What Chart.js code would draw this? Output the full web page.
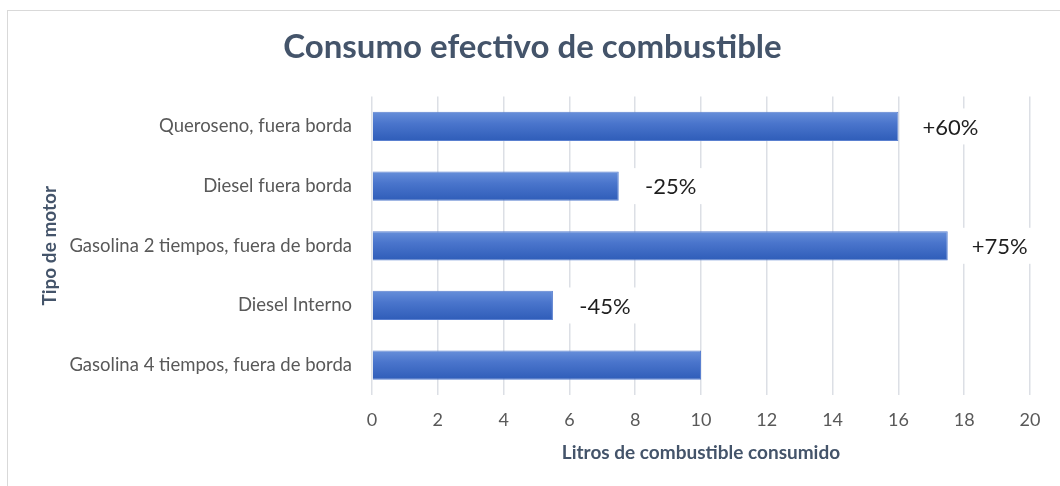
<!DOCTYPE html>
<html lang="es">
<head>
  <meta charset="UTF-8" />
  <title>Consumo efectivo de combustible</title>
  <script src="https://cdn.jsdelivr.net/npm/chart.js"></script>
  <style>
    body {
      margin: 0;
      background: #fff;
    }

    .wrap {
      position: relative;
      width: 1060px;
      height: 486px;
    }

    .frame {
      position: absolute;
      left: 7px;
      top: 10px;
      width: 1060px;
      height: 480px;
      border: 1px solid #d9d9d9;
    }

    canvas {
      position: absolute;
      left: 0;
      top: 0;
    }
  </style>
</head>
<body>
  <div class="wrap">
    <div class="frame"></div>
    <canvas id="fuelChart" width="1060" height="486"></canvas>
  </div>

  <script>
    const motores = [
      'Queroseno, fuera borda',
      'Diesel fuera borda',
      'Gasolina 2 tiempos, fuera de borda',
      'Diesel Interno',
      'Gasolina 4 tiempos, fuera de borda'
    ];
    const litros = [16, 7.5, 17.5, 5.5, 10];
    const variacion = ['+60%', '-25%', '+75%', '-45%', ''];
    const xTicks = [0, 2, 4, 6, 8, 10, 12, 14, 16, 18, 20];

    Chart.defaults.font.family = 'Lato, "Open Sans", sans-serif';

    // bar fill: light top edge fading into a deeper blue
    function barFill(ctx) {
      const chart = ctx.chart;
      const y = chart.scales.y;
      if (!chart.chartArea || !y || ctx.dataIndex === undefined) return '#4472c4';
      const center = y.getPixelForValue(ctx.dataIndex);
      const half = 15;
      const g = chart.ctx.createLinearGradient(0, center - half, 0, center + half);
      g.addColorStop(0, '#6890da');
      g.addColorStop(0.4, '#4a75cc');
      g.addColorStop(1, '#2e5cb8');
      return g;
    }

    // percentage labels to the right of each bar, on a white box
    const changeLabels = {
      id: 'changeLabels',
      afterDatasetsDraw(chart) {
        const ctx = chart.ctx;
        const bars = chart.getDatasetMeta(0).data;
        ctx.save();
        ctx.font = '22px Lato, "Open Sans", sans-serif';
        ctx.textAlign = 'center';
        ctx.textBaseline = 'middle';
        bars.forEach((bar, i) => {
          const text = variacion[i];
          if (!text) return;
          const cx = bar.x + 52;
          const w = ctx.measureText(text).width + 24;
          ctx.fillStyle = '#ffffff';
          ctx.fillRect(cx - w / 2, bar.y - 18, w, 36);
          ctx.fillStyle = '#1e1e1e';
          ctx.fillText(text, cx, bar.y + 1);
        });
        ctx.restore();
      }
    };

    new Chart(document.getElementById('fuelChart'), {
      type: 'bar',
      data: {
        labels: motores,
        datasets: [{
          data: litros,
          backgroundColor: barFill,
          borderColor: '#5a80d0',
          borderWidth: 1,
          barPercentage: 0.49,
          categoryPercentage: 1
        }]
      },
      plugins: [changeLabels],
      options: {
        indexAxis: 'y',
        responsive: false,
        animation: false,
        layout: {
          padding: { left: 35, right: 30, bottom: 0, top: 0 }
        },
        plugins: {
          legend: { display: false },
          tooltip: { enabled: false },
          title: {
            display: true,
            text: 'Consumo efectivo de combustible',
            color: '#44546a',
            font: { size: 33, weight: 'bold' },
            padding: { top: 28, bottom: 29 }
          }
        },
        scales: {
          x: {
            min: 0,
            max: 20,
            afterBuildTicks: (scale) => {
              scale.ticks = xTicks.map(v => ({ value: v }));
            },
            afterFit: (scale) => {
              scale.height = 91;
            },
            grid: {
              color: '#dcdfe5',
              lineWidth: 1.5,
              drawTicks: false
            },
            border: { display: false },
            ticks: {
              color: '#595959',
              font: { size: 18 },
              padding: 14
            },
            title: {
              display: true,
              text: 'Litros de combustible consumido',
              color: '#44546a',
              font: { size: 19, weight: 'bold' },
              padding: { top: 4, bottom: 22 }
            }
          },
          y: {
            afterFit: (scale) => {
              scale.width = 337;
            },
            grid: { display: false, drawTicks: false },
            border: { display: false },
            ticks: {
              color: '#595959',
              font: { size: 18.5 },
              padding: 20
            },
            title: {
              display: true,
              text: 'Tipo de motor',
              color: '#44546a',
              font: { size: 19, weight: 'bold' },
              padding: { top: 3, bottom: 0 }
            }
          }
        }
      }
    });
  </script>
</body>
</html>
